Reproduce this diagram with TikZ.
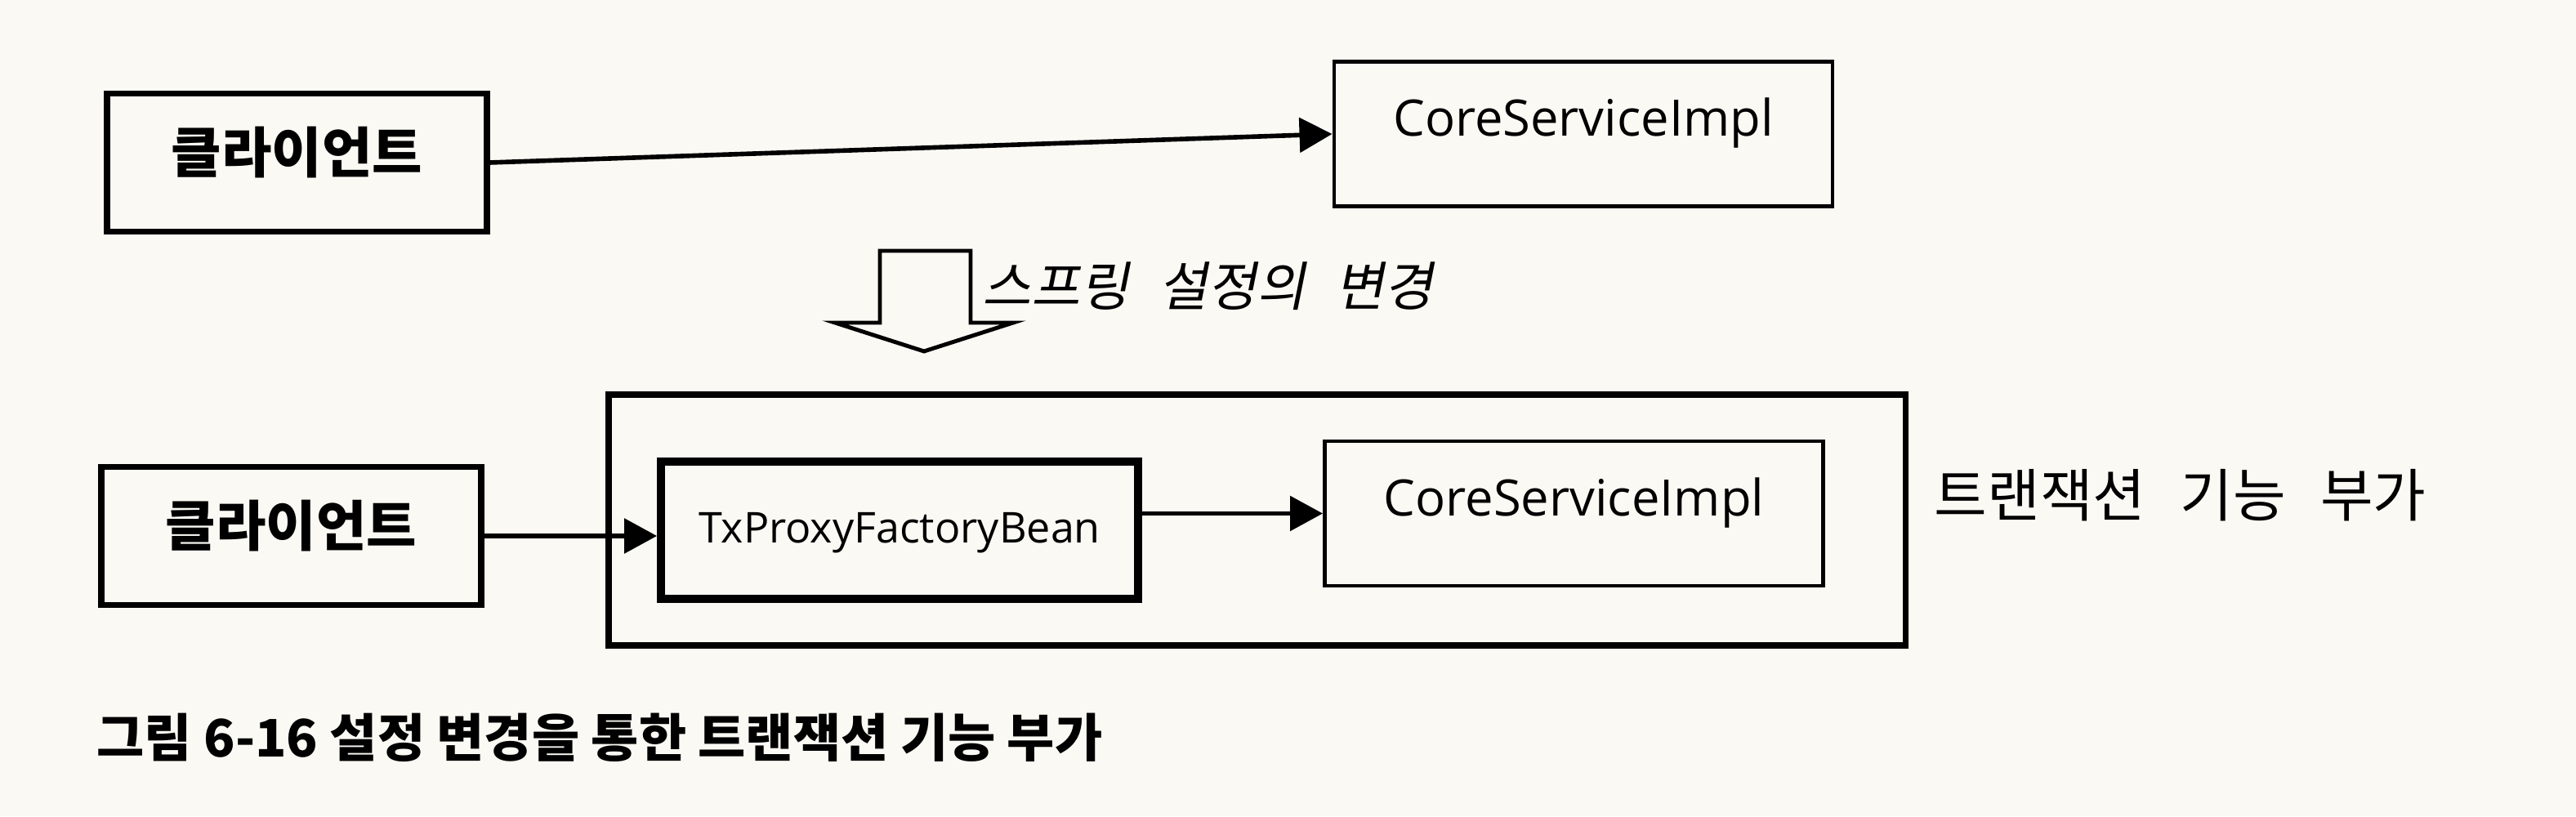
\documentclass[tikz,border=0pt]{standalone}
\usepackage{fontspec}
\setmainfont{Open Sans}
\newfontfamily\kor{Noto Sans CJK KR}
\newfontfamily\korslant[FakeSlant=0.2,WordSpace=2.5]{Noto Sans CJK KR}
\newcommand\wordgap{\spaceskip=0.6em\relax}
\usepackage{tikz}
\usetikzlibrary{arrows.meta}
\usetikzlibrary{positioning}
\definecolor{paper}{RGB}{250,249,244}

\begin{document}
\begin{tikzpicture}[
    box/.style={draw, line width=1.4pt, inner sep=0pt, minimum width=6.1cm, minimum height=1.77cm,
      font=\fontsize{17.5}{20}\selectfont, text height=0.45cm, text depth=0.39cm},
    clientbox/.style={box, line width=2pt, minimum width=4.65cm, minimum height=1.69cm,
      font=\kor\bfseries\fontsize{19}{22}\selectfont, text height=0.55cm, text depth=0.3cm},
    proxybox/.style={box, line width=2.8pt, minimum width=5.84cm, minimum height=1.68cm,
      font=\fontsize{14.8}{17}\selectfont, text height=0.42cm, text depth=0.1cm},
    call/.style={-{Triangle[length=0.4cm, width=0.42cm]}, line width=1.6pt},
    note/.style={inner sep=0pt, anchor=west}
  ]
    \fill [paper] (0, 0) rectangle (31.53, 9.99);
    \useasboundingbox (0, 0) rectangle (31.53, 9.99);

    % before
    \node [clientbox] (client) at (3.635, 8.00) {클라이언트};
    \node [box] (core) at (19.38, 8.35) {CoreServiceImpl};
    \draw [call] (client.east) -- (core.west);

    % change of the spring config
    \draw [line width=1.4pt, line join=miter] (10.77, 6.92) -- (11.88, 6.92) -- (11.88, 6.04) -- (12.40, 6.04)
      -- (11.31, 5.69) -- (10.22, 6.04) -- (10.77, 6.04) -- cycle;
    \node [note, font=\korslant\fontsize{18.5}{21}\selectfont] (change) at (12.02, 6.49) {스프링 설정의 변경};

    % after
    \node [draw, line width=2pt, minimum width=15.87cm, minimum height=3.07cm] (tx) at (15.385, 3.625) {};
    \node [clientbox] (client2) at (3.565, 3.43) {클라이언트};
    \node [proxybox] (proxy) at (11.01, 3.50) {TxProxyFactoryBean};
    \node [box] (core2) at (19.265, 3.705) {CoreServiceImpl};
    \draw [call] (client2.east) -- (client2.east -| proxy.west);
    \draw [call] (proxy.east |- core2.west) -- (core2.west);
    \node [note, font=\kor\fontsize{20}{23}\selectfont\wordgap] (txlabel) at (23.67, 3.93) {트랜잭션 기능 부가};

    \node [note, font=\kor\bfseries\fontsize{18}{21}\selectfont] (caption) at (1.18, 0.96) {그림 6-16 설정 변경을 통한 트랜잭션 기능 부가};
  \end{tikzpicture}
\end{document}
